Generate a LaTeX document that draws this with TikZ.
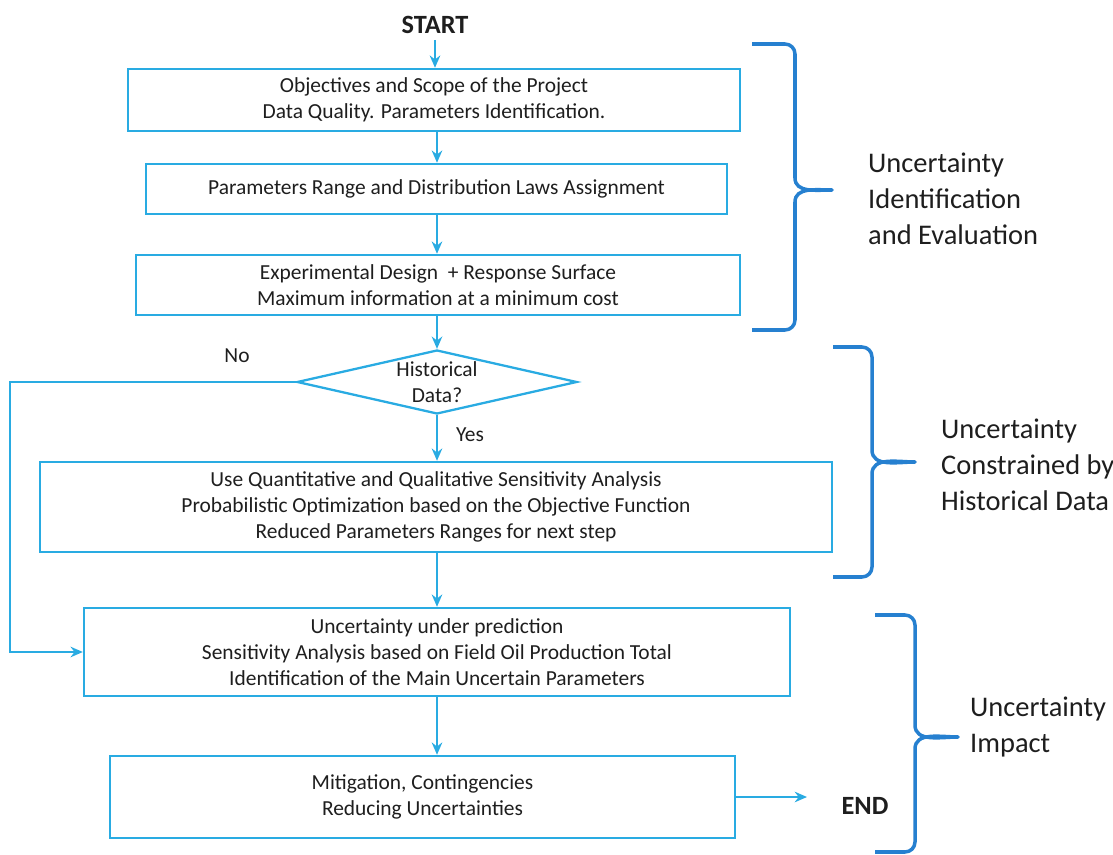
\documentclass[tikz,border=0pt]{standalone}
\usepackage{fontspec}
\setmainfont{Carlito}
\usetikzlibrary{shapes.geometric,arrows.meta}
\definecolor{flowblue}{RGB}{41,171,226}
\definecolor{braceblue}{RGB}{38,128,208}
\definecolor{inkgray}{RGB}{30,30,30}
% side brace: xend, xvert, ytop, ytip, ybot, xtip
\newcommand{\sidebrace}[6]{%
\draw[bracepath] (#1,#3) -- ({#2-10},#3) to[out=0,in=90] (#2,{#3+10}) -- (#2,{#4-12})
  to[out=-90,in=180] (#6,#4) to[out=180,in=90] (#2,{#4+12}) -- (#2,{#5-10})
  to[out=-90,in=0] ({#2-10},#5) -- (#1,#5);}

\begin{document}
\begin{tikzpicture}[x=0.02cm,y=-0.02cm,>={Stealth[length=7pt,width=6pt]},
  every node/.style={text=inkgray,font=\fontsize{12.2}{15}\selectfont},
  stepbox/.style={draw=flowblue,line width=1.4pt,rectangle,align=center,inner sep=0pt},
  flow/.style={draw=flowblue,line width=1.3pt,->},
  bracepath/.style={draw=braceblue,line width=2pt,line join=round},
  sidelabel/.style={anchor=west,align=left,font=\fontsize{16.2}{20.5}\selectfont}]
\useasboundingbox (0,0) rectangle (1113,855);

\node (start) at (435,25) {\fontsize{15}{17}\selectfont\bfseries START};
\node[stepbox,minimum width=12.24cm,minimum height=1.24cm] (b1) at (434,100)
  {Objectives and Scope of the Project\\Data Quality. Parameters Identification.};
\node[stepbox,minimum width=11.62cm,minimum height=1cm] (b2) at (436.5,189)
  {Parameters Range and Distribution Laws Assignment};
\node[stepbox,minimum width=12.08cm,minimum height=1.2cm] (b3) at (438,285)
  {Experimental Design\ \ + Response Surface\\Maximum information at a minimum cost};
\node[diamond,draw=flowblue,line width=1.3pt,minimum width=5.6cm,minimum height=1.28cm,inner sep=0pt,
  label={[align=center,font=\fontsize{12.2}{14.5}\selectfont]center:Historical\\Data?}] (hist) at (437,382) {};
\node (no) at (237,356) {No};
\node (yes) at (470,435) {Yes};
\node[stepbox,minimum width=15.84cm,minimum height=1.8cm] (b4) at (436,507)
  {Use Quantitative and Qualitative Sensitivity Analysis\\Probabilistic Optimization based on the Objective Function\\Reduced Parameters Ranges for next step};
\node[stepbox,minimum width=14.12cm,minimum height=1.76cm] (b5) at (437,652)
  {Uncertainty under prediction\\Sensitivity Analysis based on Field Oil Production Total\\Identification of the Main Uncertain Parameters};
\node[stepbox,minimum width=12.5cm,minimum height=1.64cm] (b6) at (422.5,797)
  {Mitigation, Contingencies\\Reducing Uncertainties};
\node (end) at (865,806) {\fontsize{15}{17}\selectfont\bfseries END};
\coordinate (noturn) at (10,382);
\coordinate (endtip) at (807,797);

\draw[flow] (start.south) -- (start.south |- b1.north);
\draw[flow] (b1.south -| hist) -- (hist |- b2.north);
\draw[flow] (b2.south -| hist) -- (hist |- b3.north);
\draw[flow] (b3.south -| hist) -- (hist.north);
\draw[flow] (hist.south) -- (hist |- b4.north);
\draw[flow] (b4.south -| hist) -- (hist |- b5.north);
\draw[flow] (b5.south -| hist) -- (hist |- b6.north);
\draw[flow] (hist.west) -- (noturn) |- (b5.west);
\draw[flow] (b6.east) -- (endtip);

\sidebrace{752}{795}{44}{190}{330}{832}
\sidebrace{833}{872}{347}{462}{577}{915}
\sidebrace{875}{915}{615}{737}{852}{958}
\node[sidelabel] (lab1) at (862,199) {Uncertainty\\Identification\\and Evaluation};
\node[sidelabel] (lab2) at (935,465) {Uncertainty\\Constrained by\\Historical Data};
\node[sidelabel] (lab3) at (964,727) {Uncertainty\\Impact};
\end{tikzpicture}
\end{document}
